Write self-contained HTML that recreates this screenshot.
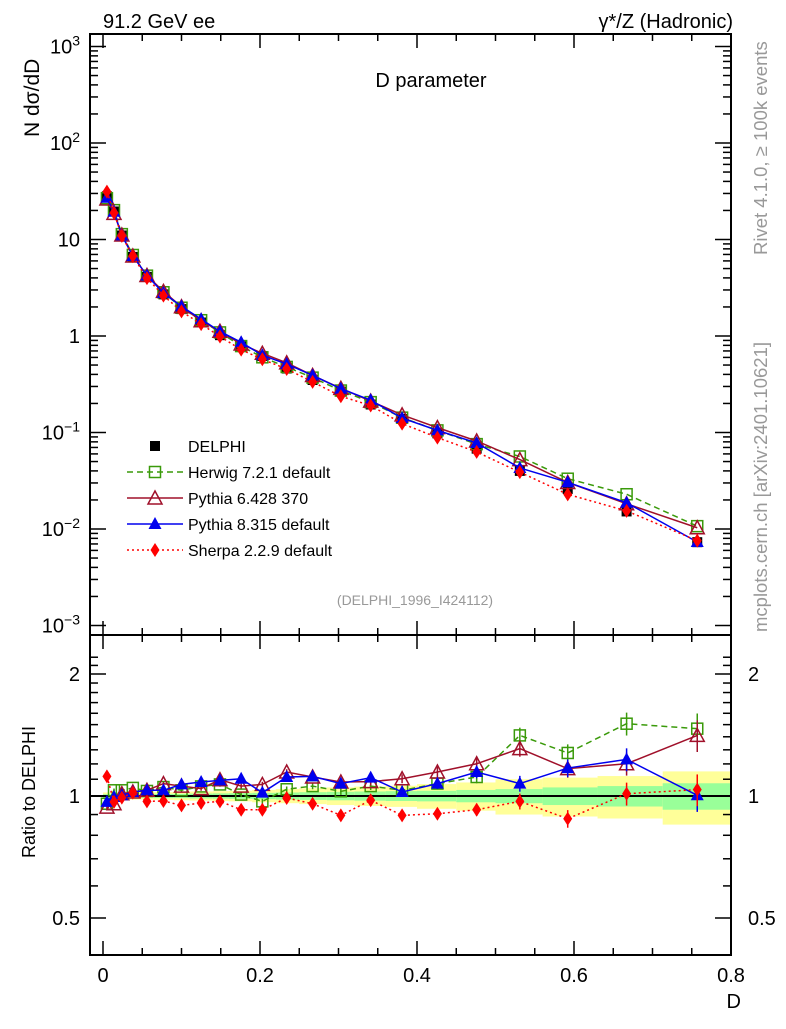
<!DOCTYPE html>
<html><head><meta charset="utf-8"><style>
body{margin:0;background:#fff;}
svg text{font-family:"Liberation Sans",sans-serif;}
</style></head><body>
<svg id="chart" width="786" height="1024" xmlns="http://www.w3.org/2000/svg">
<g id="bands"></g>
<g id="marks"></g>
<g id="axes"></g>
<text x="103" y="28" font-size="20">91.2 GeV ee</text>
<text x="733" y="28" font-size="20" text-anchor="end">γ*/Z (Hadronic)</text>
<text x="431" y="87" font-size="20" text-anchor="middle">D parameter</text>
<text x="415" y="605" font-size="14" fill="#999" text-anchor="middle">(DELPHI_1996_I424112)</text>
<text transform="translate(39,137) rotate(-90)" font-size="21">N    dσ/dD</text>
<text transform="translate(35,858) rotate(-90)" font-size="18">Ratio to DELPHI</text>
<text x="741" y="1008" font-size="20" text-anchor="end">D</text>
<text transform="translate(767,255) rotate(-90)" font-size="18.5" fill="#999">Rivet 4.1.0, ≥ 100k events</text>
<text transform="translate(767,632) rotate(-90)" font-size="18.5" fill="#999">mcplots.cern.ch [arXiv:2401.10621]</text>
<g id="legend"></g>
</svg>
<script>
const xCenters=[0.005,0.014,0.024,0.038,0.056,0.077,0.1,0.125,0.149,0.176,0.203,0.234,0.267,0.303,0.341,0.381,0.426,0.476,0.531,0.592,0.667,0.757];
const xEdges=[0,0.01,0.02,0.03,0.045,0.065,0.09,0.11,0.14,0.16,0.19,0.22,0.25,0.285,0.32,0.36,0.4,0.45,0.5,0.56,0.63,0.713,0.8];
const delphi=[28,19.5,11,6.6,4.1,2.7,1.9,1.38,1.02,0.78,0.62,0.46,0.35,0.265,0.195,0.138,0.098,0.068,0.040,0.026,0.0152,0.0073];
const herwigR=[0.957,1.033,1.033,1.047,1.029,1.052,1.033,1.056,1.068,1.008,0.970,1.039,1.058,1.027,1.058,1.033,1.073,1.114,1.411,1.277,1.508,1.466];
const py6R=[0.939,0.957,1.013,1.023,1.033,1.073,1.058,1.043,1.097,1.058,1.068,1.146,1.114,1.083,1.085,1.103,1.146,1.201,1.309,1.168,1.201,1.411];
const py8R=[0.967,0.994,1.004,1.023,1.033,1.033,1.068,1.083,1.093,1.103,1.019,1.114,1.118,1.073,1.110,1.023,1.073,1.146,1.073,1.172,1.231,1.004];
const sherpaR=[1.118,0.967,0.991,1.019,0.970,0.972,0.948,0.961,0.970,0.925,0.925,0.989,0.957,0.896,0.976,0.896,0.904,0.925,0.970,0.879,1.013,1.037];
const statBand=[0.01,0.01,0.01,0.01,0.01,0.012,0.012,0.014,0.015,0.016,0.018,0.02,0.022,0.024,0.026,0.028,0.03,0.035,0.04,0.05,0.058,0.075];
const totBand=[0.02,0.02,0.02,0.02,0.02,0.022,0.024,0.026,0.028,0.03,0.035,0.04,0.045,0.05,0.055,0.06,0.07,0.08,0.1,0.11,0.12,0.15];
const mcErr=[0.01,0.01,0.01,0.01,0.01,0.01,0.012,0.012,0.013,0.014,0.015,0.016,0.018,0.02,0.022,0.025,0.03,0.035,0.045,0.05,0.065,0.09];

const NS="http://www.w3.org/2000/svg";
const L=90,R=731,T=34,MB=635,RB=955;
const X=v=>103+v*785;
const Y=v=>336-96.5*Math.log10(v);
const RY=r=>796-122*Math.log2(r);
function mk(tag,attrs,parent){const e=document.createElementNS(NS,tag);for(const k in attrs)e.setAttribute(k,attrs[k]);parent.appendChild(e);return e;}
const bands=document.getElementById('bands'),marks=document.getElementById('marks'),axes=document.getElementById('axes'),legend=document.getElementById('legend');

for(let i=0;i<xCenters.length;i++){
  const x1=X(xEdges[i]),x2=X(xEdges[i+1]);
  let b=mk('rect',{x:x1,y:RY(1+totBand[i]),width:x2-x1,height:RY(1-totBand[i])-RY(1+totBand[i]),fill:'#ffff99'},bands);
  
  
  let g=mk('rect',{x:x1,y:RY(1+statBand[i]),width:x2-x1,height:RY(1-statBand[i])-RY(1+statBand[i]),fill:'#99ff99'},bands);
  
  
}
let one=mk('line',{x1:L,x2:R,y1:RY(1),y2:RY(1),stroke:'#000','stroke-width':2},bands);



function marker(type,cx,cy,col,parent){
  let e;
  if(type==='sq') e=mk('rect',{x:cx-5,y:cy-5,width:10,height:10,fill:'#000'},parent);
  else if(type==='osq') e=mk('rect',{x:cx-5.5,y:cy-5.5,width:11,height:11,fill:'none',stroke:col,'stroke-width':1.5},parent);
  else if(type==='otri') e=mk('polygon',{points:`${cx},${cy-7} ${cx-7},${cy+6} ${cx+7},${cy+6}`,fill:'none',stroke:col,'stroke-width':1.5},parent);
  else if(type==='tri') e=mk('polygon',{points:`${cx},${cy-7} ${cx-6.5},${cy+5} ${cx+6.5},${cy+5}`,fill:col},parent);
  else e=mk('polygon',{points:`${cx},${cy-7} ${cx-4.5},${cy} ${cx},${cy+7} ${cx+4.5},${cy}`,fill:col},parent);
  return e;
}
const series=[
 {name:'herwig',ratio:herwigR,col:'#3a9a0a',m:'osq',dash:'6,4',label:'Herwig 7.2.1 default'},
 {name:'pythia6',ratio:py6R,col:'#a0102a',m:'otri',dash:'',label:'Pythia 6.428 370'},
 {name:'pythia8',ratio:py8R,col:'#0000ee',m:'tri',dash:'',label:'Pythia 8.315 default'},
 {name:'sherpa',ratio:sherpaR,col:'#ff0000',m:'dia',dash:'2,3',label:'Sherpa 2.2.9 default'}
];
for(let i=0;i<xCenters.length;i++){
  const d=marker('sq',X(xCenters[i]),Y(delphi[i]),'#000',marks);
  
  
}
series.forEach(s=>{
  const vals=delphi.map((v,i)=>v*s.ratio[i]);
  let pts=vals.map((v,i)=>X(xCenters[i])+','+Y(v)).join(' ');
  let pl=mk('polyline',{points:pts,fill:'none',stroke:s.col,'stroke-width':1.5,'stroke-dasharray':s.dash},marks);
  
  
  let rpts=s.ratio.map((r,i)=>X(xCenters[i])+','+RY(r)).join(' ');
  let rl=mk('polyline',{points:rpts,fill:'none',stroke:s.col,'stroke-width':1.5,'stroke-dasharray':s.dash},marks);
  
  
  for(let i=0;i<xCenters.length;i++){
    const cx=X(xCenters[i]);
    let m=marker(s.m,cx,Y(vals[i]),s.col,marks);
    
    
    let eb=mk('line',{x1:cx,x2:cx,y1:RY(s.ratio[i]*(1+mcErr[i])),y2:RY(s.ratio[i]*(1-mcErr[i])),stroke:s.col,'stroke-width':1.5},marks);
    
    
    let rm=marker(s.m,cx,RY(s.ratio[i]),s.col,marks);
    
    
  }
});
[[T,MB],[MB,RB]].forEach(([a,b],k)=>{
  let f=mk('rect',{x:L,y:a,width:R-L,height:b-a,fill:'none',stroke:'#000','stroke-width':2},axes);
  
  
});
for(let i=0;i<=16;i++){
  const v=i*0.05,x=X(v); if(x>R+1)continue;
  const len=(i%4===0)?14:7;
  [[T,1],[MB,-1],[MB,1],[RB,-1]].forEach(([y,d])=>mk('line',{x1:x,x2:x,y1:y,y2:y+d*len,stroke:'#000','stroke-width':1.5},axes));
  if(i%4===0){const t=mk('text',{x:x,y:982,'font-size':20,'text-anchor':'middle'},axes);t.textContent=(v===0?'0':v.toFixed(1));
    }
}
const yLabels=['10⁻³','10⁻²','10⁻¹','1','10','10²','10³'];
for(let e=-3;e<=3;e++){
  const y=Y(Math.pow(10,e));
  mk('line',{x1:L,x2:L+16,y1:y,y2:y,stroke:'#000','stroke-width':1.5},axes);
  mk('line',{x1:R,x2:R-16,y1:y,y2:y,stroke:'#000','stroke-width':1.5},axes);
  const t=mk('text',{x:80,y:y+7,'font-size':20,'text-anchor':'end'},axes);
  if(e>=2||e<=-1){t.innerHTML='10<tspan dy="-8" font-size="14">'+(e<0?'−'+(-e):e)+'</tspan>';}else t.textContent=yLabels[e+3];
  
  if(e<3)for(let m=2;m<=9;m++){const ym=Y(m*Math.pow(10,e));
    mk('line',{x1:L,x2:L+8,y1:ym,y2:ym,stroke:'#000','stroke-width':1.5},axes);
    mk('line',{x1:R,x2:R-8,y1:ym,y2:ym,stroke:'#000','stroke-width':1.5},axes);}
}
const rTicks=[0.5,1,2],rLab=['0.5','1','2'];
rTicks.forEach((r,i)=>{const y=RY(r);
  mk('line',{x1:L,x2:L+16,y1:y,y2:y,stroke:'#000','stroke-width':1.5},axes);
  mk('line',{x1:R,x2:R-16,y1:y,y2:y,stroke:'#000','stroke-width':1.5},axes);
  let t=mk('text',{x:80,y:y+7,'font-size':20,'text-anchor':'end'},axes);t.textContent=rLab[i];
  
  let t2=mk('text',{x:748,y:y+7,'font-size':20},axes);t2.textContent=rLab[i];
  });
[0.4,0.6,0.7,0.8,0.9,1.1,1.2,1.3,1.4,1.5,1.6,1.7,1.8,1.9,2.1,2.2].forEach(r=>{const y=RY(r);if(y<MB||y>RB)return;
  mk('line',{x1:L,x2:L+8,y1:y,y2:y,stroke:'#000','stroke-width':1.5},axes);
  mk('line',{x1:R,x2:R-8,y1:y,y2:y,stroke:'#000','stroke-width':1.5},axes);});
let ly=446;
let dm=marker('sq',155,ly,'#000',legend);

let dt=mk('text',{x:188,y:ly+6,'font-size':16},legend);dt.textContent='DELPHI';

series.forEach((s,i)=>{const y=ly+26*(i+1);
  let ln=mk('line',{x1:127,x2:183,y1:y,y2:y,stroke:s.col,'stroke-width':1.5,'stroke-dasharray':s.dash},legend);
  
  let m=marker(s.m,155,y,s.col,legend);
  
  let t=mk('text',{x:188,y:y+6,'font-size':16},legend);t.textContent=s.label;
  });
</script>
</body></html>
